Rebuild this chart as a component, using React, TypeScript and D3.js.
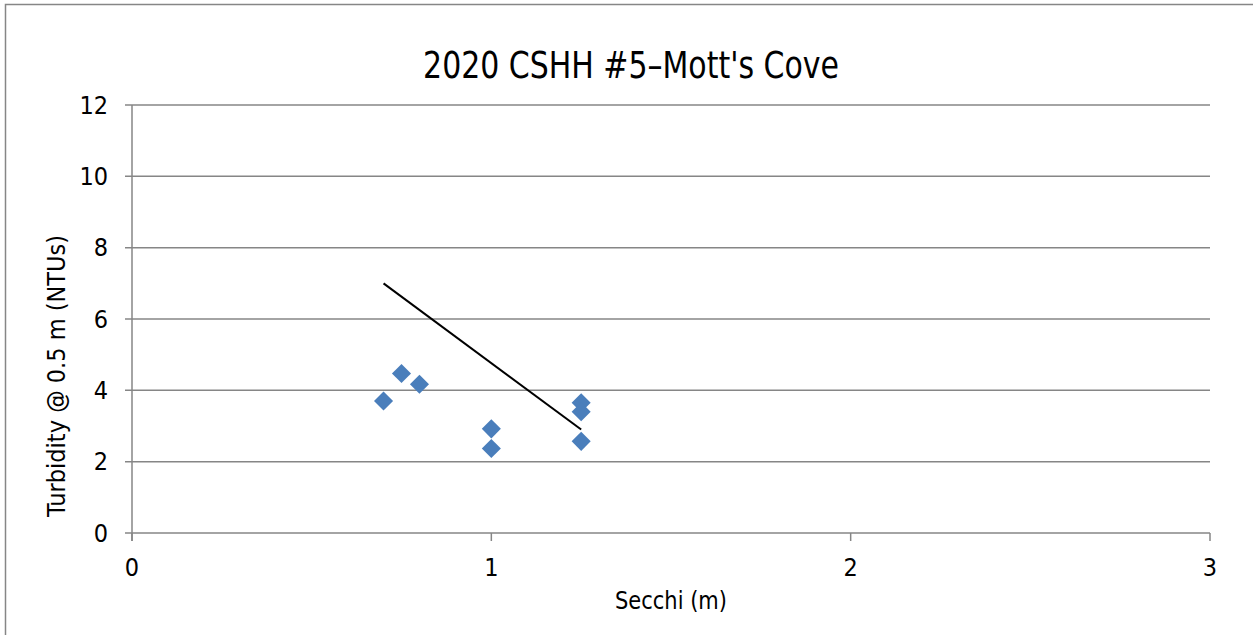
import React from "react";
import * as d3 from "d3";

const secchi = [0.7, 0.75, 0.8, 1.0, 1.0, 1.25, 1.25, 1.25];
const turbidity = [3.7, 4.47, 4.17, 2.92, 2.37, 3.65, 3.4, 2.57];
const trendX = [0.7, 1.25];
const trendY = [7.0, 2.9];
const xTicks = [0, 1, 2, 3];
const yTicks = [0, 2, 4, 6, 8, 10, 12];
const title = "2020 CSHH #5\u2013Mott's Cove";
const xTitle = "Secchi (m)";
const yTitle = "Turbidity @  0.5 m (NTUs)";

const W = 1253;
const H = 635;
const FONT = "'DejaVu Sans', sans-serif";
const GRID = "#868686";

export default function App() {
  const x = d3.scaleLinear().domain([0, 3]).range([132, 1210]);
  const y = d3.scaleLinear().domain([0, 12]).range([533, 105]);
  const diamond = d3.symbol(d3.symbolSquare, 182)() as string;
  const line = d3
    .line<number>()
    .x((_, i) => x(trendX[i]))
    .y((d) => y(d));

  return (
    <svg
      width={W}
      height={H}
      style={{ position: "absolute", left: 0, top: 0, background: "#fff" }}
      fontFamily={FONT}
    >
      <rect x={0} y={0} width={W} height={H} fill="#fff" />
      <rect x={5.5} y={4.5} width={W + 20} height={H + 20} fill="none" stroke={GRID} strokeWidth={1.5} />
      {yTicks.map((t) => (
        <g key={"y" + t}>
          <line x1={125} x2={x(3)} y1={y(t)} y2={y(t)} stroke={GRID} strokeWidth={1.5} />
          <text
            transform={`translate(108,${y(t)}) scale(0.9,1)`}
            dy="0.35em"
            textAnchor="end"
            fontSize={25}
            fill="#000"
          >
            {t}
          </text>
        </g>
      ))}
      <line x1={x(0)} x2={x(0)} y1={y(12)} y2={y(0) + 8} stroke={GRID} strokeWidth={1.5} />
      {xTicks.map((t) => (
        <g key={"x" + t}>
          <line x1={x(t)} x2={x(t)} y1={y(0)} y2={y(0) + 8} stroke={GRID} strokeWidth={1.5} />
          <text
            transform={`translate(${x(t)},576) scale(0.9,1)`}
            textAnchor="middle"
            fontSize={25}
            fill="#000"
          >
            {t}
          </text>
        </g>
      ))}
      <path d={line(trendY) as string} fill="none" stroke="#000" strokeWidth={2} />
      {secchi.map((s, i) => (
        <path
          key={"p" + i}
          d={diamond}
          transform={`translate(${x(s)},${y(turbidity[i])}) rotate(45)`}
          fill="#4A7EBB"
        />
      ))}
      <text
        transform="translate(631,78) scale(0.81,1)"
        textAnchor="middle"
        fontSize={37}
        fill="#000"
      >
        {title}
      </text>
      <text
        transform="translate(671,609) scale(0.84,1)"
        textAnchor="middle"
        fontSize={25}
        fill="#000"
      >
        {xTitle}
      </text>
      <text
        transform={`translate(65,376) rotate(-90) scale(0.9,1)`}
        textAnchor="middle"
        fontSize={25}
        fill="#000"
      >
        {yTitle}
      </text>
    </svg>
  );
}
